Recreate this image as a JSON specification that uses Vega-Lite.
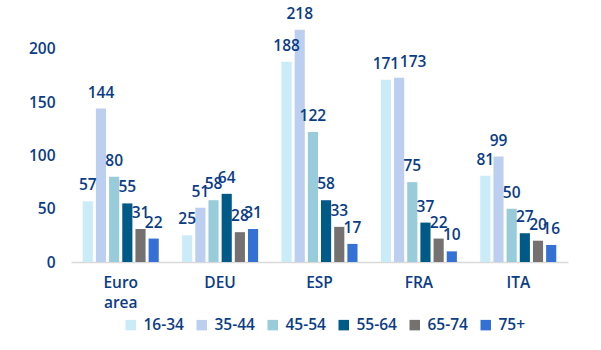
{
  "$schema": "https://vega.github.io/schema/vega-lite/v6.json",
  "width": 497,
  "height": 245,
  "autosize": {"type": "none"},
  "padding": {"left": 71, "top": 17, "right": 33, "bottom": 88},
  "background": "white",
  "config": {
    "view": {"stroke": null},
    "font": "Open Sans",
    "text": {"font": "Open Sans"}
  },
  "data": {
    "values": [
      {"region": "Euro area", "age": "16-34", "value": 57},
      {"region": "Euro area", "age": "35-44", "value": 144},
      {"region": "Euro area", "age": "45-54", "value": 80},
      {"region": "Euro area", "age": "55-64", "value": 55},
      {"region": "Euro area", "age": "65-74", "value": 31},
      {"region": "Euro area", "age": "75+", "value": 22},
      {"region": "DEU", "age": "16-34", "value": 25},
      {"region": "DEU", "age": "35-44", "value": 51},
      {"region": "DEU", "age": "45-54", "value": 58},
      {"region": "DEU", "age": "55-64", "value": 64},
      {"region": "DEU", "age": "65-74", "value": 28},
      {"region": "DEU", "age": "75+", "value": 31},
      {"region": "ESP", "age": "16-34", "value": 188},
      {"region": "ESP", "age": "35-44", "value": 218},
      {"region": "ESP", "age": "45-54", "value": 122},
      {"region": "ESP", "age": "55-64", "value": 58},
      {"region": "ESP", "age": "65-74", "value": 33},
      {"region": "ESP", "age": "75+", "value": 17},
      {"region": "FRA", "age": "16-34", "value": 171},
      {"region": "FRA", "age": "35-44", "value": 173},
      {"region": "FRA", "age": "45-54", "value": 75},
      {"region": "FRA", "age": "55-64", "value": 37},
      {"region": "FRA", "age": "65-74", "value": 22},
      {"region": "FRA", "age": "75+", "value": 10},
      {"region": "ITA", "age": "16-34", "value": 81},
      {"region": "ITA", "age": "35-44", "value": 99},
      {"region": "ITA", "age": "45-54", "value": 50},
      {"region": "ITA", "age": "55-64", "value": 27},
      {"region": "ITA", "age": "65-74", "value": 20},
      {"region": "ITA", "age": "75+", "value": 16}
    ]
  },
  "encoding": {
    "x": {
      "field": "region",
      "type": "nominal",
      "sort": ["Euro area", "DEU", "ESP", "FRA", "ITA"],
      "scale": {"paddingInner": 0.235, "paddingOuter": 0.118},
      "axis": {
        "title": null,
        "labelAngle": 0,
        "labelFontSize": 15.5,
        "labelFontWeight": 600,
        "labelColor": "#0b3c86",
        "labelPadding": 13,
        "labelLineHeight": 20,
        "labelBaseline": "top",
        "ticks": false,
        "domainColor": "#d9d9d9",
        "domainWidth": 1.5,
        "labelExpr": "datum.value == 'Euro area' ? ['Euro', 'area'] : datum.value"
      }
    },
    "xOffset": {
      "field": "age",
      "type": "nominal",
      "sort": ["16-34", "35-44", "45-54", "55-64", "65-74", "75+"],
      "scale": {"paddingInner": 0.23, "paddingOuter": 0}
    },
    "y": {
      "field": "value",
      "type": "quantitative",
      "scale": {"domain": [0, 230], "nice": false},
      "axis": {
        "title": null,
        "values": [0, 50, 100, 150, 200],
        "grid": false,
        "domain": false,
        "ticks": false,
        "labelFontSize": 15.5,
        "labelFontWeight": 600,
        "labelColor": "#0b3c86",
        "labelPadding": 16
      }
    }
  },
  "layer": [
    {
      "mark": {"type": "bar"},
      "encoding": {
        "color": {
          "field": "age",
          "type": "nominal",
          "sort": ["16-34", "35-44", "45-54", "55-64", "65-74", "75+"],
          "scale": {
            "domain": ["16-34", "35-44", "45-54", "55-64", "65-74", "75+"],
            "range": ["#c9ecf8", "#bccff0", "#98ccda", "#005a87", "#767171", "#3571d5"]
          },
          "legend": {
            "title": null,
            "orient": "none",
            "direction": "horizontal",
            "legendX": 52,
            "legendY": 300,
            "symbolType": "square",
            "symbolSize": 110,
            "symbolStrokeWidth": 0,
            "labelFontSize": 15.5,
            "labelFontWeight": 600,
            "labelColor": "#0b3c86",
            "labelOffset": 5,
            "columnPadding": 10
          }
        }
      }
    },
    {
      "transform": [{"filter": "!(datum.region == 'FRA' && datum.age == '35-44')"}],
      "mark": {"type": "text", "baseline": "alphabetic", "dy": -11, "fontSize": 15.5, "fontWeight": 600, "color": "#0b3c86"},
      "encoding": {
        "text": {"field": "value", "type": "quantitative"}
      }
    },
    {
      "transform": [{"filter": "datum.region == 'FRA' && datum.age == '35-44'"}],
      "mark": {"type": "text", "baseline": "alphabetic", "dy": -11, "dx": 14, "fontSize": 15.5, "fontWeight": 600, "color": "#0b3c86"},
      "encoding": {
        "text": {"field": "value", "type": "quantitative"}
      }
    }
  ]
}
